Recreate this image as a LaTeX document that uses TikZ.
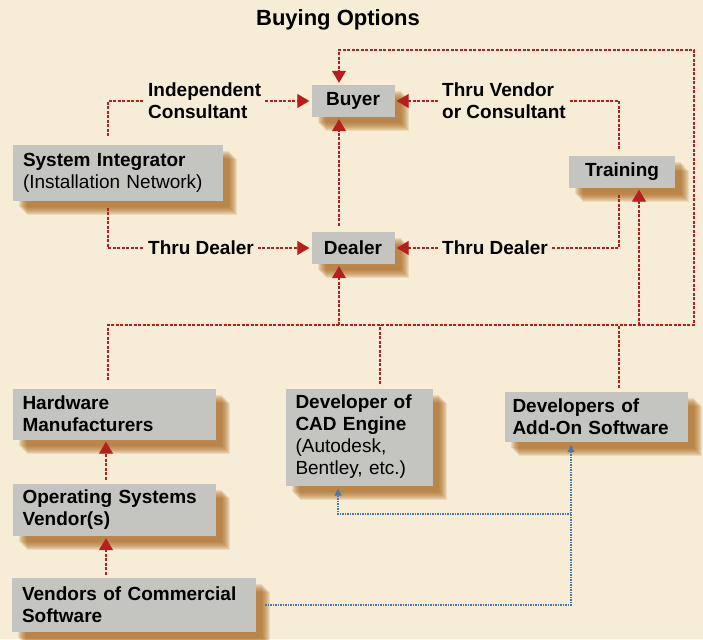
\documentclass[tikz,border=0pt]{standalone}
\usepackage{fontspec}
\setmainfont{Liberation Sans}
\usetikzlibrary{arrows.meta,shadows}

\definecolor{paper}{RGB}{247,236,213}
\definecolor{boxgray}{RGB}{196,197,192}
\definecolor{linkred}{RGB}{183,30,30}
\definecolor{linkblue}{RGB}{74,120,168}
\definecolor{shadowbrown}{RGB}{168,102,28}

\tikzset{
  shadowstep/.style={drop shadow={shadow xshift=#1pt,shadow yshift=-#1pt,fill=shadowbrown,opacity=.14}},
  softshadow/.style={shadowstep=6,shadowstep=7,shadowstep=8,shadowstep=9,
    shadowstep=10,shadowstep=11,shadowstep=12,shadowstep=13,shadowstep=14}
}

\begin{document}
\begin{tikzpicture}[
  x=1pt,y=-1pt,
  box/.style={fill=boxgray,inner sep=0pt,font=\bfseries\fontsize{19}{22}\selectfont,softshadow},
  tbox/.style={box,inner xsep=10pt,align=left},
  lbl/.style={font=\bfseries\fontsize{19}{22}\selectfont,align=left,inner ysep=0pt,inner xsep=4pt,anchor=west},
  link/.style={linkred,line width=1.1pt,dash pattern=on 3pt off 1.5pt},
  arrowlink/.style={link,-{Triangle[length=12pt,width=14pt]},shorten >=2pt},
  bluelink/.style={linkblue,line width=1.1pt,dash pattern=on 1.5pt off 1pt,-{Triangle[length=7pt,width=7pt]},shorten >=3pt}
]
  % paper
  \fill[paper] (0,0) rectangle (703,639);

  \node[font=\bfseries\fontsize{22}{26}\selectfont] (title) at (338,20) {Buying Options};

  % boxes
  \node[box,minimum width=83pt,minimum height=32pt] (buyer) at (353,101) {Buyer};
  \node[box,minimum width=83pt,minimum height=32pt] (dealer) at (353,248) {Dealer};
  \node[box,minimum width=106pt,minimum height=31pt] (training) at (622,172) {Training};
  \node[tbox,text width=190pt,minimum height=55pt] (integrator) at (118,173) {System Integrator\\\mdseries(Installation Network)};
  \node[tbox,text width=183pt,minimum height=51pt] (hardware) at (114,414) {Hardware\\Manufacturers};
  \node[tbox,text width=127pt,minimum height=97pt] (cad) at (359,437) {Developer of\\CAD Engine\\\mdseries(Autodesk,\\\mdseries Bentley, etc.)};
  \node[tbox,inner xsep=8pt,text width=167pt,minimum height=50pt] (addon) at (596,417) {Developers of\\Add-On Software};
  \node[tbox,text width=183pt,minimum height=52pt] (osvendor) at (114,510) {Operating Systems\\Vendor(s)};
  \node[tbox,text width=224pt,minimum height=54pt] (commercial) at (134,605) {Vendors of Commercial\\Software};

  % labels on the links
  \node[lbl] (lblind) at (144,101) {Independent\\Consultant};
  \node[lbl] (lblvendor) at (438,101) {Thru Vendor\\or Consultant};
  \node[lbl] (lbldl) at (144,248) {Thru Dealer};
  \node[lbl] (lbldr) at (438,248) {Thru Dealer};

  \coordinate (buse) at (694,325);
  \coordinate (loop) at (694,50);
  \coordinate (fork) at (571,514);

  % red links
  \draw[link] ([xshift=-10pt,yshift=9pt]integrator.north) |- (lblind.west);
  \draw[arrowlink] (lblind.east) -- (buyer.west);
  \draw[link] ([xshift=-10pt,yshift=-7pt]integrator.south) |- (lbldl.west);
  \draw[arrowlink] (lbldl.east) -- (dealer.west);
  \draw[link] ([xshift=-3pt,yshift=7pt]training.north) |- (lblvendor.east);
  \draw[arrowlink] (lblvendor.west) -- (buyer.east);
  \draw[link] ([xshift=-3pt,yshift=-7pt]training.south) |- (lbldr.east);
  \draw[arrowlink] (lbldr.west) -- (dealer.east);
  \draw[arrowlink] ([xshift=-14pt,yshift=6pt]dealer.north) -- ([xshift=-14pt]buyer.south);
  \draw[arrowlink] ([xshift=-6pt,yshift=8pt]hardware.north) |- (buse) -- (loop) -| ([xshift=-14pt]buyer.north);
  \draw[link] ([xshift=21pt,yshift=4pt]cad.north) -- ([xshift=21pt]cad.north |- buse);
  \draw[link] ([xshift=23pt,yshift=4pt]addon.north) -- ([xshift=23pt]addon.north |- buse);
  \draw[arrowlink] ([xshift=-14pt]dealer.south |- buse) -- ([xshift=-14pt]dealer.south);
  \draw[arrowlink] ([xshift=17pt]training.south |- buse) -- ([xshift=17pt]training.south);
  \draw[arrowlink] ([xshift=-8pt,yshift=4pt]osvendor.north) -- ([xshift=-8pt]hardware.south);
  \draw[arrowlink] ([xshift=-28pt,yshift=3pt]commercial.north) -- ([xshift=-8pt]osvendor.south);

  % blue links
  \draw[bluelink] ([xshift=9pt]commercial.east) -| ([xshift=-25pt]addon.south);
  \draw[bluelink] (fork) -| ([xshift=-21pt]cad.south);
\end{tikzpicture}
\end{document}
